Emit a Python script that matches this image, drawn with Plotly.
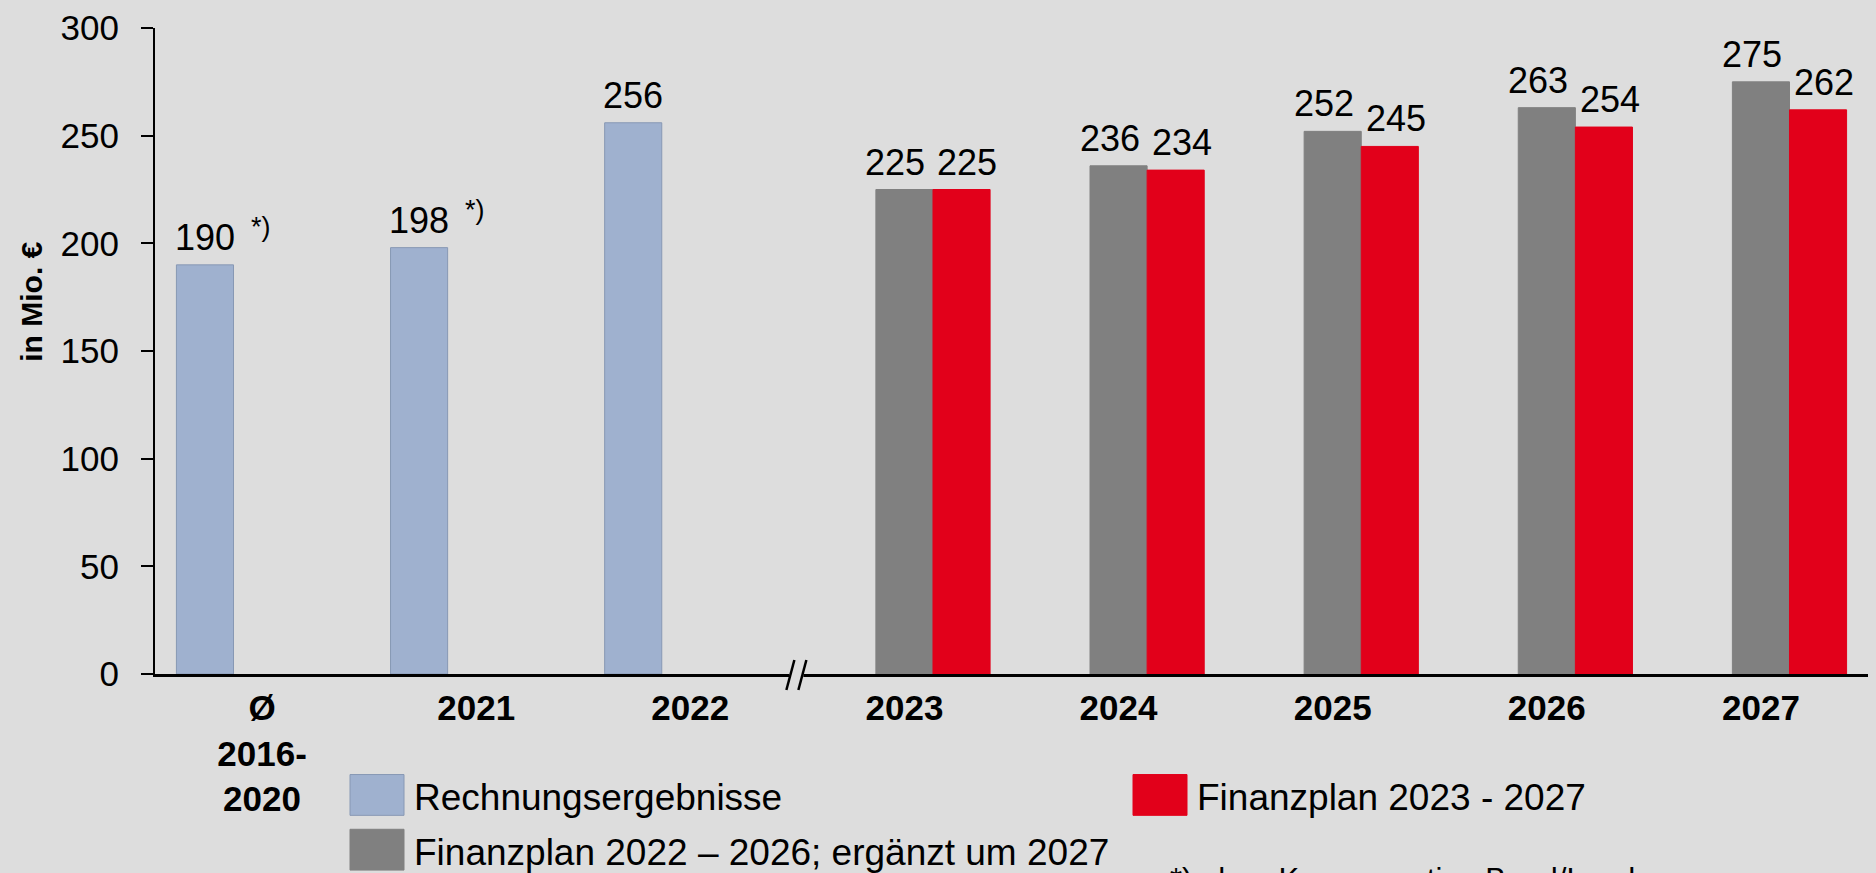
import plotly.graph_objects as go

# ---------------- data ----------------
categories = ["Ø<br>2016-<br>2020", "2021", "2022", "2023", "2024", "2025", "2026", "2027"]
rechnung = [190, 198, 256, None, None, None, None, None]
finanz_alt = [None, None, None, 225, 236, 252, 263, 275]
finanz_neu = [None, None, None, 225, 234, 245, 254, 262]
footnote_marks = ["*)", "*)", "", "", "", "", "", ""]

series_names = ["Rechnungsergebnisse",
                "Finanzplan 2022 – 2026; ergänzt um 2027",
                "Finanzplan 2023 - 2027"]
footnote_text = "*) ohne Kompensation Bund/Land"
y_title = "in Mio. €"

# ---------------- styling ----------------
W, H = 1876, 873
ML, MR, MT, MB = 155, 8, 25, 199
PW, PH = W - ML - MR, H - MT - MB
BG = "#DDDDDD"
C_BLUE, C_BLUE_LINE = "#9FB1CF", "#8798B4"
C_GRAY = "#808080"
C_RED = "#E2001A"
FONT = "Arial, Liberation Sans, sans-serif"
FS = 36
BAR_PX = 57  # approximate bar width in pixels (for label offsets)


def px_x(p):
    return (p - ML) / PW


def px_y(p):
    return (H - MB - p) / PH


fig = go.Figure()
series = [
    (series_names[0], rechnung, C_BLUE, C_BLUE_LINE, -1, 0),
    (series_names[1], finanz_alt, C_GRAY, C_GRAY, 0, -9),
    (series_names[2], finanz_neu, C_RED, C_RED, 1, 6),
]
annotations = []
for name, vals, col, lc, slot, lab_dx in series:
    fig.add_trace(go.Bar(
        x=categories, y=vals, name=name,
        marker=dict(color=col, line=dict(color=lc, width=1)),
        showlegend=False,
    ))
    # value labels above bars
    for i, v in enumerate(vals):
        if v is None:
            continue
        annotations.append(dict(
            x=i, y=v, xref="x", yref="y", text=str(v), showarrow=False,
            xanchor="center", yanchor="bottom",
            xshift=slot * BAR_PX + lab_dx, yshift=5,
            font=dict(family=FONT, size=FS, color="black")))

# footnote markers next to value labels
for i, (m, v) in enumerate(zip(footnote_marks, rechnung)):
    if m and v is not None:
        annotations.append(dict(
            x=i, y=v, xref="x", yref="y", text=m, showarrow=False,
            xanchor="left", yanchor="middle", xshift=-13, yshift=38,
            font=dict(family=FONT, size=27, color="black")))

# y-axis title (placed like the reference, above the axis centre)
annotations.append(dict(x=px_x(32), y=px_y(300), xref="paper", yref="paper",
                        text=y_title, textangle=-90, showarrow=False,
                        xanchor="center", yanchor="middle",
                        font=dict(family=FONT, size=30, color="black", weight="bold")))

# manual legend (large swatches)
legend_items = [
    (series_names[0], C_BLUE, C_BLUE_LINE, 350, 775),
    (series_names[1], C_GRAY, C_GRAY, 350, 830),
    (series_names[2], C_RED, C_RED, 1133, 775),
]
shapes = []
for name, col, lc, x0, y0 in legend_items:
    shapes.append(dict(type="rect", xref="paper", yref="paper",
                       x0=px_x(x0), x1=px_x(x0 + 54), y0=px_y(y0), y1=px_y(y0 + 41),
                       fillcolor=col, line=dict(color=lc, width=1), layer="above"))
    annotations.append(dict(x=px_x(x0 + 62), y=px_y(y0 + 23), xref="paper", yref="paper",
                            text=name, showarrow=False, xanchor="left", yanchor="middle",
                            font=dict(family=FONT, size=37, color="black")))

annotations.append(dict(x=px_x(1168), y=px_y(861), xref="paper", yref="paper",
                        text=footnote_text, showarrow=False, xanchor="left", yanchor="top",
                        font=dict(family=FONT, size=31, color="black")))

# axis break marker between 2022 and 2023 (paper refs so it is not clipped)
break_x = 3 / len(categories)  # boundary between 3rd and 4th category
shapes.append(dict(type="rect", xref="paper", yref="paper", xsizemode="pixel", ysizemode="pixel",
                   xanchor=break_x, yanchor=0, x0=-8, x1=6, y0=-3, y1=3,
                   fillcolor=BG, line=dict(width=0), layer="above"))
for dx in (-11, 1):
    shapes.append(dict(type="line", xref="paper", yref="paper", xsizemode="pixel", ysizemode="pixel",
                       xanchor=break_x, yanchor=0, x0=dx, x1=dx + 8, y0=-16, y1=14,
                       line=dict(color="black", width=2.5), layer="above"))

fig.update_layout(
    width=W, height=H,
    margin=dict(l=ML, r=MR, t=MT, b=MB, pad=0),
    paper_bgcolor=BG, plot_bgcolor=BG,
    barmode="group", bargap=0.2, bargroupgap=0,
    font=dict(family=FONT, color="black"),
    showlegend=False,
    shapes=shapes, annotations=annotations,
    xaxis=dict(
        type="category", showgrid=False, zeroline=False,
        showline=True, linecolor="black", linewidth=3, ticks="",
        tickfont=dict(family=FONT, size=35, color="black", weight="bold"),
        ticklabelstandoff=1,
    ),
    yaxis=dict(
        range=[0, 300], dtick=50, showgrid=False, zeroline=False,
        showline=True, linecolor="black", linewidth=2,
        ticks="outside", ticklen=12, tickwidth=2, tickcolor="black",
        tickfont=dict(family=FONT, size=35, color="black"),
        ticklabelstandoff=15,
    ),
)

fig.write_html(
    "out.html",
    config={"displayModeBar": False},
    post_script="document.body.style.margin='0';document.body.style.padding='0';"
                "document.body.style.overflow='hidden';",
)
